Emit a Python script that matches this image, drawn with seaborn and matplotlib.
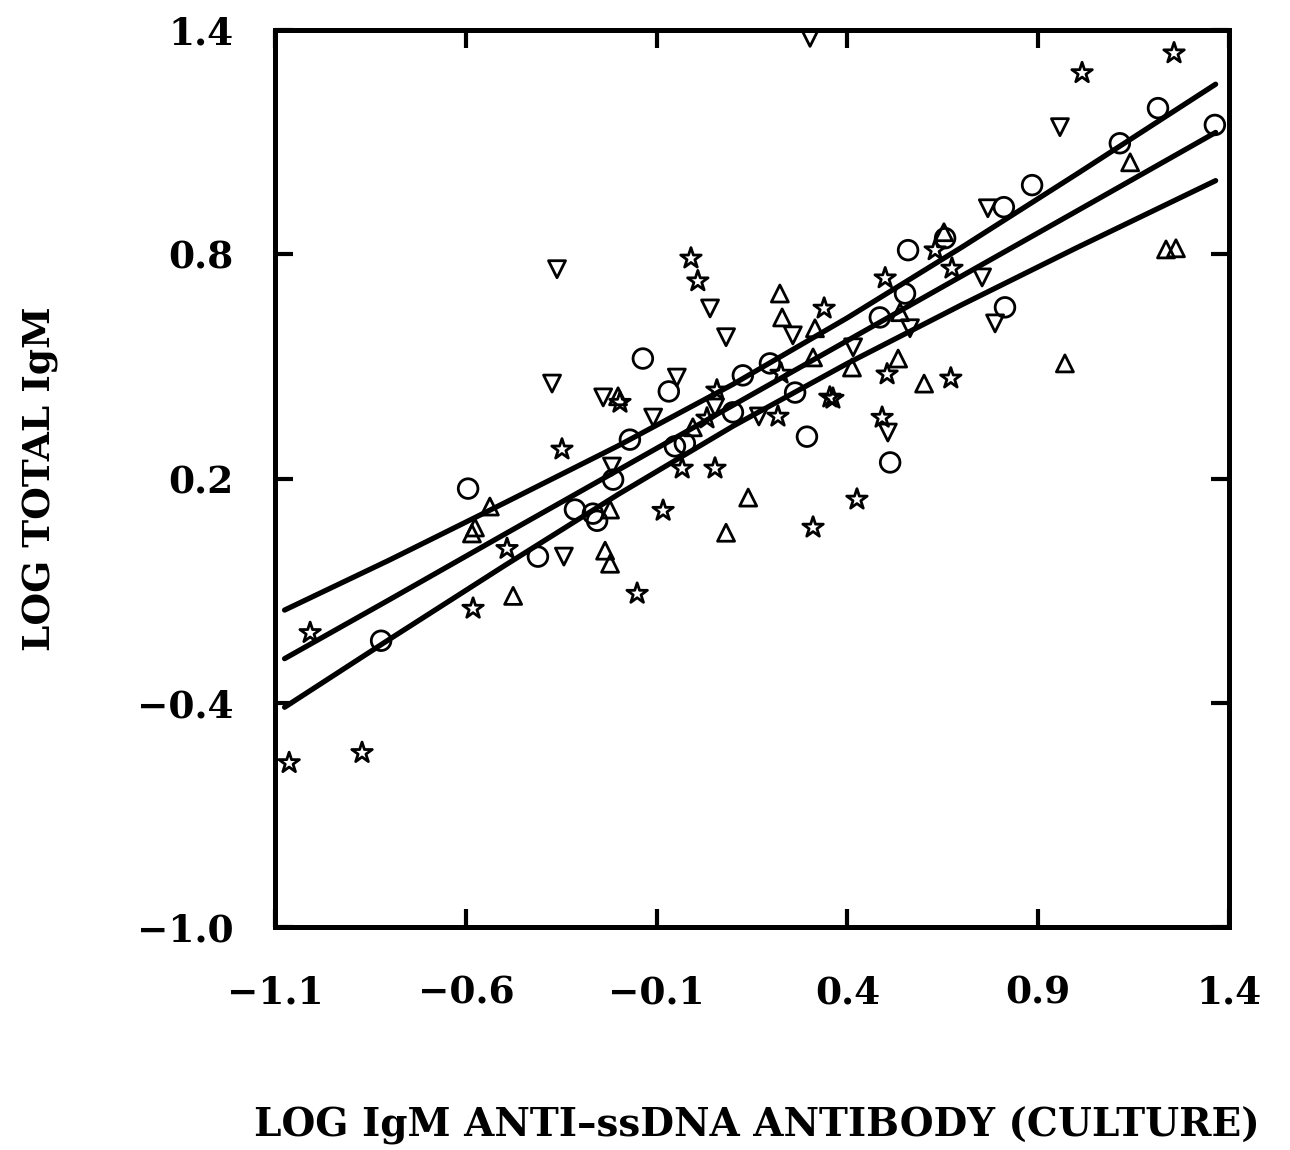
import matplotlib
matplotlib.use("Agg")
import matplotlib.pyplot as plt
import pandas as pd
import seaborn as sns

# ---- measured values: log IgM anti-ssDNA (culture) vs log total IgM ----
circle_x = [-0.822, -0.594, -0.411, -0.314, -0.267, -0.256, -0.214, -0.170, -0.136,
            -0.068, -0.052, -0.026, 0.100, 0.126, 0.197, 0.263, 0.294, 0.485, 0.512,
            0.551, 0.559, 0.656, 0.810, 0.813, 0.884, 1.114, 1.214, 1.363]
circle_y = [-0.234, 0.173, -0.009, 0.117, 0.106, 0.087, 0.197, 0.304, 0.521,
            0.433, 0.286, 0.294, 0.377, 0.476, 0.508, 0.430, 0.312, 0.631, 0.243,
            0.695, 0.811, 0.843, 0.926, 0.658, 0.985, 1.097, 1.191, 1.146]

up_x = [-0.584, -0.576, -0.537, -0.476, -0.235, -0.222, -0.222, -0.201, -0.005,
        0.082, 0.140, 0.223, 0.229, 0.315, 0.310, 0.412, 0.533, 0.538, 0.601,
        0.653, 0.970, 1.141, 1.235, 1.261]
up_y = [0.053, 0.069, 0.125, -0.114, 0.007, -0.028, 0.117, 0.420, 0.337,
        0.055, 0.149, 0.695, 0.631, 0.602, 0.524, 0.497, 0.521, 0.645, 0.454,
        0.859, 0.508, 1.046, 0.813, 0.816]

down_x = [-0.361, -0.374, -0.343, -0.240, -0.217, -0.109, -0.047, 0.040, 0.082,
          0.053, 0.168, 0.257, 0.302, 0.415, 0.506, 0.564, 0.753, 0.768, 0.787,
          0.957]
down_y = [0.760, 0.454, -0.009, 0.417, 0.232, 0.363, 0.470, 0.655, 0.578,
          0.390, 0.366, 0.583, 1.379, 0.551, 0.323, 0.602, 0.738, 0.923, 0.615,
          1.140]

star_x = [-1.063, -0.872, -1.008, -0.581, -0.151, -0.492, -0.348, -0.083, -0.033,
          0.053, 0.310, 0.425, -0.010, 0.008, 0.339, 0.499, 0.630, 0.674, 0.671,
          0.504, 0.491, 0.354, 0.362, 1.015, 1.256, -0.196, 0.058, 0.032, 0.218,
          0.226]
star_y = [-0.561, -0.534, -0.213, -0.148, -0.108, 0.012, 0.278, 0.114, 0.227,
          0.227, 0.069, 0.144, 0.789, 0.728, 0.655, 0.736, 0.811, 0.762, 0.468,
          0.479, 0.363, 0.417, 0.414, 1.285, 1.338, 0.403, 0.436, 0.361, 0.366,
          0.481]

# regression line with its upper and lower confidence limits
fit_x = [-1.075, -0.8, -0.5, -0.2, 0.1, 0.4, 0.7, 1.0, 1.365]
fit_mid = [-0.282, -0.124, 0.050, 0.223, 0.396, 0.569, 0.742, 0.915, 1.126]
fit_upper = [-0.152, -0.018, 0.134, 0.288, 0.452, 0.630, 0.819, 1.014, 1.255]
fit_lower = [-0.412, -0.230, -0.034, 0.158, 0.340, 0.508, 0.665, 0.817, 0.997]

x_ticks = [-1.1, -0.6, -0.1, 0.4, 0.9, 1.4]
x_tick_labels = ["\u22121.1", "\u22120.6", "\u22120.1", "0.4", "0.9", "1.4"]
y_ticks = [-1.0, -0.4, 0.2, 0.8, 1.4]
y_tick_labels = ["\u22121.0", "\u22120.4", "0.2", "0.8", "1.4"]

x_title = "LOG IgM ANTI\u2013ssDNA ANTIBODY (CULTURE)"
y_title = "LOG TOTAL IgM"

# ---- styling ----
sns.set_theme(style="ticks")
plt.rcParams["font.family"] = ["DejaVu Serif"]
plt.rcParams["font.weight"] = "bold"

fig = plt.figure(figsize=(12.9, 11.5), dpi=100)
ax = fig.add_axes([0.2132, 0.1939, 0.7395, 0.78])

groups = [
    (circle_x, circle_y, "o", 200),
    (up_x, up_y, "^", 150),
    (down_x, down_y, "v", 150),
    (star_x, star_y, "*", 240),
]
for gx, gy, mk, size in groups:
    df = pd.DataFrame({"x": gx, "y": gy})
    sns.scatterplot(data=df, x="x", y="y", marker=mk, s=size, ax=ax,
                    color="black", facecolor="none", edgecolor="black",
                    linewidth=2.0, zorder=3)

lines = pd.DataFrame({
    "x": fit_x * 3,
    "y": fit_upper + fit_mid + fit_lower,
    "band": ["upper"] * len(fit_x) + ["fit"] * len(fit_x) + ["lower"] * len(fit_x),
})
for name in ["upper", "fit", "lower"]:
    sns.lineplot(data=lines[lines["band"] == name], x="x", y="y", ax=ax,
                 color="black", linewidth=3.8, estimator=None, sort=False,
                 zorder=2)

ax.set_xlim(-1.1, 1.4)
ax.set_ylim(-1.0, 1.4)
ax.set_xticks(x_ticks)
ax.set_xticklabels(x_tick_labels)
ax.set_yticks(y_ticks)
ax.set_yticklabels(y_tick_labels)

for side in ["top", "bottom", "left", "right"]:
    ax.spines[side].set_visible(True)
    ax.spines[side].set_linewidth(3.6)
    ax.spines[side].set_color("black")

ax.tick_params(axis="both", which="major", direction="in", length=13,
               width=3.0, color="black", top=True, right=True,
               labelsize=27, labelcolor="black")
ax.tick_params(axis="x", pad=34)
ax.tick_params(axis="y", pad=30)
for lab in ax.get_xticklabels() + ax.get_yticklabels():
    lab.set_fontweight("bold")

ax.set_xlabel(x_title, fontsize=28, fontweight="bold", color="black")
ax.set_ylabel(y_title, fontsize=27, fontweight="bold", color="black")
ax.xaxis.label.set_va("center")
ax.yaxis.label.set_va("center")
ax.xaxis.set_label_coords(0.505, -0.222)
ax.yaxis.set_label_coords(-0.246, 0.5)

ax.set_facecolor("white")
fig.patch.set_facecolor("white")
ax.grid(False)

fig.savefig("out.png", dpi=100, facecolor="white")
